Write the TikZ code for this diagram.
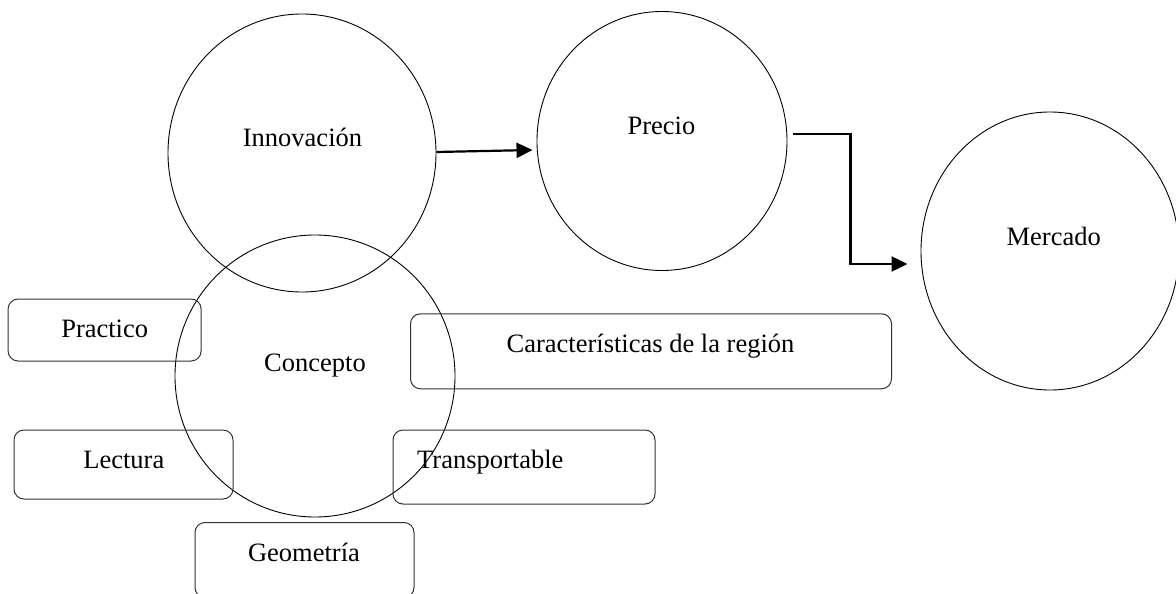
\documentclass[tikz,border=0pt]{standalone}
\usepackage{fontspec}
\setmainfont{Liberation Serif}
\usetikzlibrary{shapes.geometric,arrows.meta,calc}
\begin{document}
\begin{tikzpicture}[x=1pt,y=-1pt,
  bubble/.style={draw=black,line width=0.9pt,ellipse,inner sep=0pt},
  roundbox/.style={draw=black!80,line width=1pt,rectangle,rounded corners=10pt,inner sep=0pt},
  lbl/.style={anchor=base,inner sep=0pt,font=\fontsize{26.5}{30}\selectfont},
  flow/.style={line width=2.2pt,-{Triangle[length=16pt,width=15pt]}}]
\useasboundingbox (0,0) rectangle (1176,594);
% circles
\node[bubble,minimum width=268pt,minimum height=278pt] (innov) at (302,153) {};
\node[bubble,minimum width=250pt,minimum height=259pt] (precio) at (662,141) {};
\node[bubble,minimum width=258pt,minimum height=278pt] (merc) at (1050,251) {};
\node[bubble,minimum width=280pt,minimum height=282pt] (conc) at (315,376) {};
% boxes
\node[roundbox,minimum width=193pt,minimum height=62pt] (prac) at (104.6,330) {};
\node[roundbox,minimum width=219pt,minimum height=69pt] (lect) at (123.5,464.5) {};
\node[roundbox,minimum width=219pt,minimum height=75pt] (geom) at (304.5,560) {};
\node[roundbox,minimum width=481pt,minimum height=75pt] (carac) at (651,351.3) {};
\node[roundbox,minimum width=262pt,minimum height=74pt] (trans) at (524,467) {};
% texts
\node[lbl] (innovT) at (302.5,146.7) {Innovación};
\node[lbl] (precioT) at (661.5,135) {Precio};
\node[lbl] (mercT) at (1053.7,245.3) {Mercado};
\node[lbl] (concT) at (315,371.7) {Concepto};
\node[lbl] (pracT) at (104.7,337.3) {Practico};
\node[lbl] (lectT) at (123.8,468.3) {Lectura};
\node[lbl] (geomT) at (304,561) {Geometría};
\node[lbl] (caracT) at (650.5,352.3) {Características de la región};
\node[lbl] (transT) at (490.3,468.3) {Transportable};
% connectors
\draw[flow] ($(innov.east)+(0,-1)$) -- ($(precio.west)+(-4,9)$);
\coordinate (p1) at ($(precio.east)+(6,-7)$);
\coordinate (p2) at ($(merc.west)+(-13,13)$);
\draw[flow] (p1) -| ($(p1)!0.5!(p2)$) |- (p2);
\end{tikzpicture}
\end{document}
